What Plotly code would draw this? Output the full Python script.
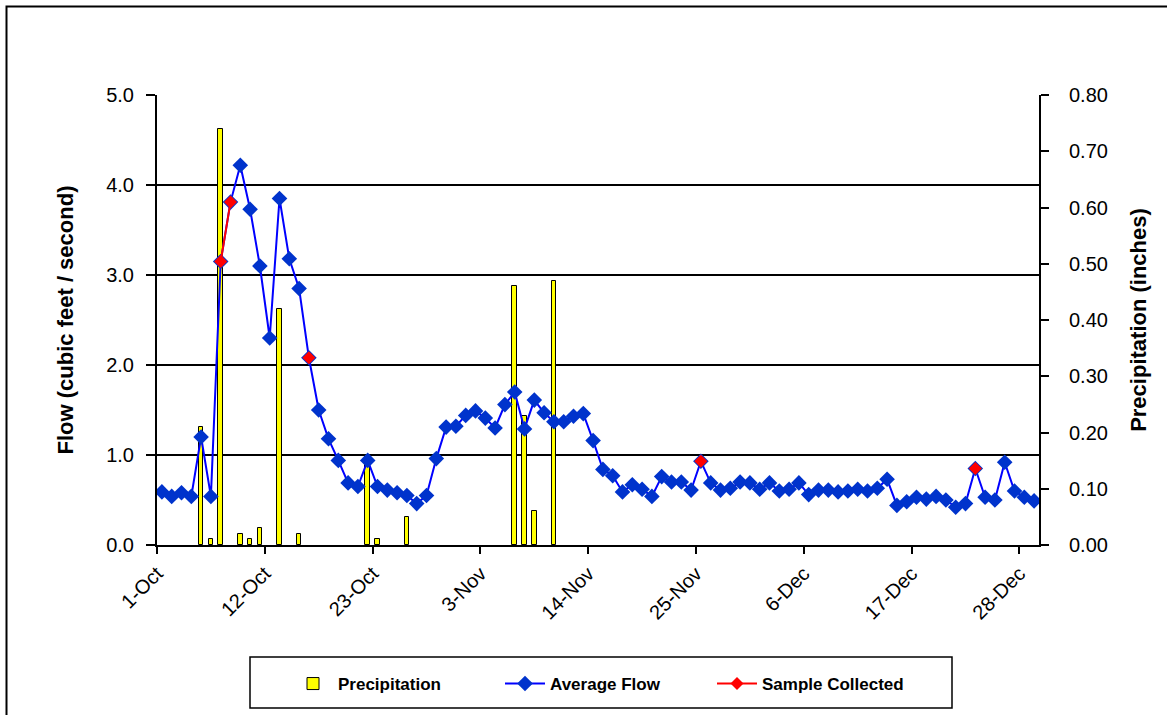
import pandas as pd
import plotly.graph_objects as go

# ---------------- data ----------------
start_date = "2007-10-01"
n_days = 90

flow_oct = [0.59, 0.54, 0.58, 0.54, 1.20, 0.54, 3.15, 3.81, 4.22, 3.73,
            3.10, 2.30, 3.85, 3.18, 2.85, 2.08, 1.50, 1.18, 0.94, 0.69,
            0.65, 0.94, 0.65, 0.61, 0.58, 0.55, 0.46, 0.55, 0.96, 1.31, 1.32]
flow_nov = [1.44, 1.49, 1.41, 1.30, 1.56, 1.70, 1.29, 1.61, 1.47, 1.37,
            1.37, 1.43, 1.46, 1.16, 0.84, 0.77, 0.59, 0.67, 0.62, 0.54,
            0.76, 0.70, 0.70, 0.61, 0.93, 0.69, 0.61, 0.63, 0.70, 0.69]
flow_dec = [0.62, 0.69, 0.60, 0.62, 0.69, 0.56, 0.61, 0.61, 0.59, 0.60,
            0.62, 0.60, 0.63, 0.73, 0.44, 0.48, 0.53, 0.51, 0.54, 0.50,
            0.42, 0.46, 0.85, 0.53, 0.50, 0.92, 0.60, 0.53, 0.49]

precip_dates = ["2007-10-05", "2007-10-06", "2007-10-07", "2007-10-09",
                "2007-10-10", "2007-10-11", "2007-10-13", "2007-10-15",
                "2007-10-22", "2007-10-23", "2007-10-26", "2007-11-06",
                "2007-11-07", "2007-11-08", "2007-11-10"]
precip_values = [0.21, 0.01, 0.74, 0.02, 0.01, 0.03, 0.42, 0.02,
                 0.16, 0.01, 0.05, 0.46, 0.23, 0.06, 0.47]

sample_dates = ["2007-10-07", "2007-10-08", "2007-10-16", "2007-11-25", "2007-12-23"]

tick_dates = ["2007-10-01", "2007-10-12", "2007-10-23", "2007-11-03", "2007-11-14",
              "2007-11-25", "2007-12-06", "2007-12-17", "2007-12-28"]
tick_labels = ["1-Oct", "12-Oct", "23-Oct", "3-Nov", "14-Nov",
               "25-Nov", "6-Dec", "17-Dec", "28-Dec"]

# ---------------- build ----------------
days = pd.date_range(start_date, periods=n_days, freq="D")
half = pd.Timedelta(hours=12)
x_days = days + half
flow = flow_oct + flow_nov + flow_dec

sample_set = set(pd.to_datetime(sample_dates))
sample_vals = [v if d in sample_set else None for d, v in zip(days, flow)]

x_precip = pd.to_datetime(precip_dates) + half

FONT = "Liberation Sans, Arial, sans-serif"
W, H = 1167, 715
L, R, T, B = 157, 128, 95, 170
PW, PH = W - L - R, H - T - B


def px_x(px):
    return (px - L) / PW


def px_y(py):
    return (H - B - py) / PH


fig = go.Figure()
fig.add_trace(go.Bar(
    x=x_precip, y=precip_values, name="Precipitation", yaxis="y",
    width=0.45 * 86400000,
    marker=dict(color="#FFFF00", line=dict(color="black", width=1)),
))
fig.add_trace(go.Scatter(
    x=x_days, y=flow, name="Average Flow", yaxis="y2", mode="lines+markers",
    line=dict(color="#0000FF", width=2),
    marker=dict(symbol="diamond", size=12, color="#0033CC"),
))
fig.add_trace(go.Scatter(
    x=x_days, y=sample_vals, name="Sample Collected", yaxis="y2",
    mode="lines+markers", connectgaps=False,
    line=dict(color="#FF0000", width=2),
    marker=dict(symbol="diamond", size=10, color="#FF0000"),
))

end_date = days[-1] + pd.Timedelta(days=1)

fig.update_layout(
    width=W, height=H,
    margin=dict(l=L, r=R, t=T, b=B),
    paper_bgcolor="white", plot_bgcolor="white",
    font=dict(family=FONT, color="black", size=19),
    bargap=0,
    xaxis=dict(
        type="date", range=[days[0], end_date],
        tickvals=pd.to_datetime(tick_dates), ticktext=tick_labels,
        tickangle=-45, tickfont=dict(size=20),
        showgrid=False, showline=True, linecolor="black", linewidth=2,
        ticks="outside", ticklen=7, tickwidth=2, tickcolor="black",
    ),
    yaxis=dict(
        side="right", range=[0, 0.8], dtick=0.1, tickformat=".2f",
        showgrid=False, showline=True, linecolor="black", linewidth=2,
        ticks="outside", ticklen=8, tickwidth=2, tickcolor="black",
        tickfont=dict(size=20), ticklabelstandoff=16,
        title=dict(text="<b>Precipitation (inches)</b>", font=dict(size=22), standoff=24),
    ),
    yaxis2=dict(
        side="left", overlaying="y", range=[0, 5], dtick=1, tickformat=".1f",
        showgrid=True, gridcolor="black", gridwidth=1.5,
        showline=True, linecolor="black", linewidth=2,
        ticks="outside", ticklen=9, tickwidth=2, tickcolor="black",
        tickfont=dict(size=20), ticklabelstandoff=8,
        title=dict(text="<b>Flow (cubic feet / second)</b>", font=dict(size=22), standoff=26),
    ),
    legend=dict(
        orientation="h", x=px_x(606), xanchor="center", y=px_y(684), yanchor="middle",
        borderwidth=0, bgcolor="rgba(0,0,0,0)",
        font=dict(size=17, family=FONT, weight="bold"),
        entrywidth=157, itemwidth=40,
        traceorder="normal",
    ),
    shapes=[
        dict(type="rect", xref="paper", yref="paper",
             x0=px_x(6.5), x1=px_x(1185), y0=px_y(730), y1=px_y(6.5),
             line=dict(color="black", width=2), fillcolor="rgba(0,0,0,0)", layer="below"),
        dict(type="rect", xref="paper", yref="paper",
             x0=px_x(250), x1=px_x(952), y0=px_y(708), y1=px_y(657),
             line=dict(color="black", width=1.5), fillcolor="rgba(0,0,0,0)", layer="below"),
    ],
)

fig.write_html("out.html", config={"displayModeBar": False},
               post_script="document.body.style.margin='0';")
